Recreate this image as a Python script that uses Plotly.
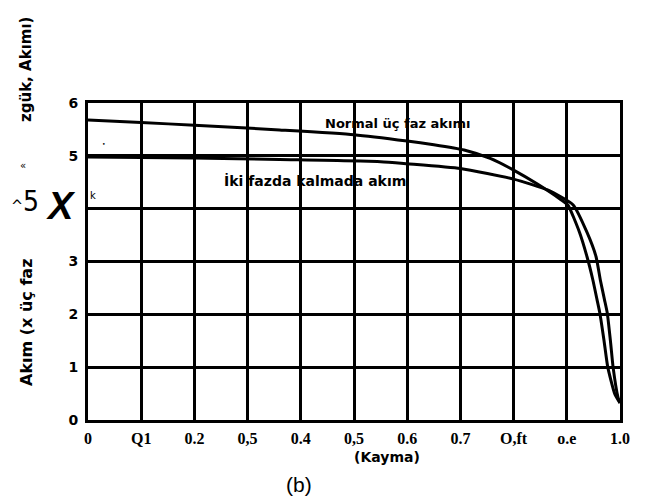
import plotly.graph_objects as go

# --- data ---
slip_normal = [0, 0.1, 0.2, 0.36, 0.5, 0.6, 0.65, 0.707, 0.756, 0.8, 0.844, 0.889, 0.902,
               0.924, 0.938, 0.949, 0.957, 0.962, 0.97, 0.977, 0.99, 1.0]
current_normal = [5.68, 5.63, 5.58, 5.49, 5.40, 5.28, 5.21, 5.11, 4.95, 4.73, 4.47, 4.17, 4.07,
                  3.55, 3.09, 2.65, 2.27, 2.03, 1.5, 1.0, 0.5, 0.32]

slip_two = [0, 0.1, 0.2, 0.36, 0.55, 0.6, 0.7, 0.8, 0.865, 0.912, 0.938, 0.955,
            0.963, 0.971, 0.976, 0.982, 0.987, 0.996, 1.0]
current_two = [4.98, 4.97, 4.96, 4.93, 4.89, 4.85, 4.76, 4.56, 4.35, 4.07, 3.55, 3.09,
               2.65, 2.27, 2.03, 1.5, 1.0, 0.44, 0.32]

x_tickvals = [0, 0.1, 0.2, 0.3, 0.4, 0.5, 0.6, 0.7, 0.8, 0.9, 1.0]
x_ticktext = ["0", "Q1", "0.2", "0,5", "0.4", "0,5", "0.6", "0.7", "O,ft", "o.e", "1.0"]
y_tickvals = [0, 1, 2, 3, 4, 5, 6]
y_ticktext = ["0", "1", "2", "3", "", "5", "6"]

OFF = 8  # page body margin
W, H = 648 - OFF, 500 - OFF
L, T = 88 - OFF, 103 - OFF
R, B = 28, 80
PW, PH = W - L - R, H - T - B


def px(xp):
    return (xp - 88) / PW


def py(yp):
    return (420 - yp) / PH


fig = go.Figure()
fig.add_trace(go.Scatter(x=slip_normal, y=current_normal, mode="lines",
                         line=dict(color="black", width=3, shape="spline", smoothing=0.5),
                         showlegend=False, hoverinfo="skip"))
fig.add_trace(go.Scatter(x=slip_two, y=current_two, mode="lines",
                         line=dict(color="black", width=3, shape="spline", smoothing=0.5),
                         showlegend=False, hoverinfo="skip"))

hand = "DejaVu Sans"
ann = [
    dict(x=px(397), y=py(123), text="<b>Normal üç faz akımı</b>", font=dict(size=13, family=hand)),
    dict(x=px(315), y=py(181), text="<b>İki fazda kalmada akım</b>", font=dict(size=14, family=hand)),
    dict(x=px(387), y=py(457), text="<b>(Kayma)</b>", font=dict(size=14, family=hand)),
    dict(x=px(299), y=py(484), text="(b)", font=dict(size=21, family="Liberation Sans")),
    dict(x=px(61), y=py(206), text="<b><i>X</i></b>", font=dict(size=38, family="Liberation Sans")),
    dict(x=px(26), y=py(323), text="<b>Akım (x üç faz</b>", textangle=-90, font=dict(size=16, family=hand)),
    dict(x=px(26), y=py(70), text="<b>zgük, Akımı)</b>", textangle=-90, font=dict(size=15, family=hand)),
    dict(x=px(25), y=py(201), text="<span style='font-size:16px'>^</span>5",
         font=dict(size=28, family="Liberation Sans Narrow, DejaVu Sans Condensed")),
    dict(x=px(23), y=py(165), text="«", font=dict(size=10, family=hand)),
    dict(x=px(93), y=py(195), text="k", font=dict(size=10, family=hand)),
    dict(x=px(104), y=py(143), text="•", font=dict(size=6, family=hand)),
]
for a in ann:
    a.update(xref="paper", yref="paper", xanchor="center", yanchor="middle",
             showarrow=False, font_color="black")

fig.update_layout(
    width=W, height=H,
    margin=dict(l=L, r=R, t=T, b=B, autoexpand=False),
    paper_bgcolor="white", plot_bgcolor="white",
    annotations=ann,
    xaxis=dict(range=[0, 1], tickvals=x_tickvals, ticktext=x_ticktext,
               showgrid=True, gridcolor="black", gridwidth=2.5,
               showline=True, linecolor="black", linewidth=3, mirror=True,
               zeroline=False, ticks="", ticklabelstandoff=2,
               tickfont=dict(family="Liberation Serif", size=16, color="black", weight="bold")),
    yaxis=dict(range=[0, 6], tickvals=y_tickvals, ticktext=y_ticktext,
               showgrid=True, gridcolor="black", gridwidth=2.5,
               showline=True, linecolor="black", linewidth=3, mirror=True,
               zeroline=False, ticks="", ticklabelstandoff=4,
               tickfont=dict(family="DejaVu Sans", size=14, color="black", weight="bold")),
)

fig.write_html("out.html")
